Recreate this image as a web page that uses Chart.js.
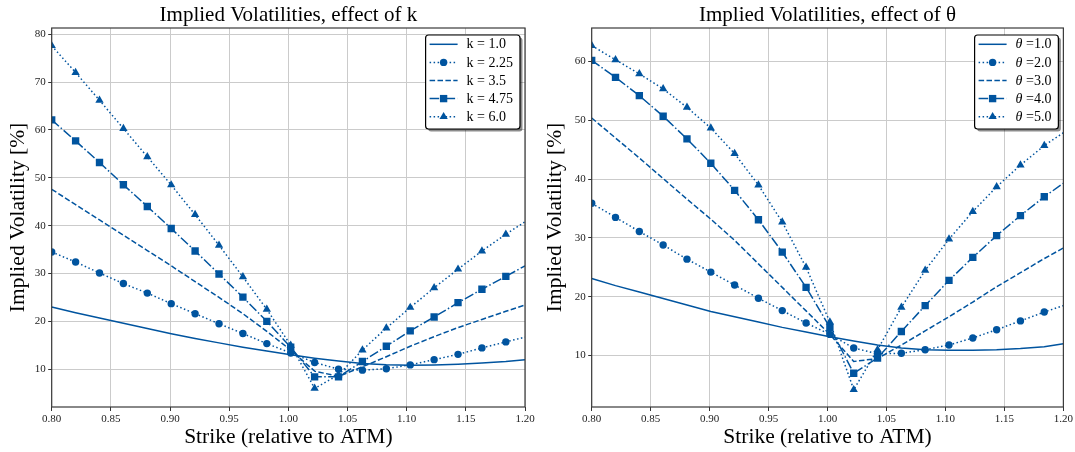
<!DOCTYPE html>
<html>
<head>
<meta charset="utf-8">
<script src="https://cdn.jsdelivr.net/npm/chart.js@4.4.1/dist/chart.umd.min.js"></script>
<style>
  html, body { margin: 0; padding: 0; background: #fff; }
  #wrap { position: relative; width: 1075px; height: 452px; }
  canvas { position: absolute; top: 0; }
  #left { left: 0; }
  #right { left: 537px; }
</style>
</head>
<body>
<div id="wrap">
  <canvas id="left" width="537" height="452"></canvas>
  <canvas id="right" width="538" height="452"></canvas>
</div>
<script>
// strikes where the smiles are sampled (markers on all but the last one)
const strikes = [0.8000, 0.8202, 0.8404, 0.8606, 0.8808, 0.9010, 0.9212, 0.9414, 0.9616, 0.9818,
                 1.0020, 1.0222, 1.0424, 1.0626, 1.0828, 1.1030, 1.1232, 1.1434, 1.1636, 1.1838, 1.2000];
const strikeTicks = [0.80, 0.85, 0.90, 0.95, 1.00, 1.05, 1.10, 1.15, 1.20];

// implied vols [%] for varying mean reversion k
const kLabels = ["k = 1.0", "k = 2.25", "k = 3.5", "k = 4.75", "k = 6.0"];
const volK1   = [23.0, 21.8, 20.7, 19.6, 18.5, 17.4, 16.4, 15.5, 14.6, 13.8, 13.0, 12.3, 11.7, 11.2, 10.95, 10.85, 10.9, 11.05, 11.3, 11.6, 12.0];
const volK225 = [34.5, 32.4, 30.1, 27.9, 25.9, 23.7, 21.6, 19.5, 17.45, 15.35, 13.4, 11.4, 10.0, 9.8, 10.1, 10.9, 12.0, 13.1, 14.45, 15.7, 16.7];
const volK35  = [47.6, 44.4, 41.2, 38.0, 34.8, 31.6, 28.3, 25.0, 21.6, 17.9, 14.0, 9.6, 8.5, 10.5, 12.6, 14.8, 16.8, 18.7, 20.4, 22.1, 23.4];
const volK475 = [62.1, 57.7, 53.2, 48.55, 44.0, 39.4, 34.7, 29.9, 25.05, 20.0, 14.6, 8.4, 8.4, 11.6, 14.8, 18.0, 20.9, 23.9, 26.7, 29.4, 31.6];
const volK6   = [77.6, 72.0, 66.2, 60.3, 54.4, 48.5, 42.3, 35.9, 29.3, 22.5, 15.0, 6.0, 8.8, 14.0, 18.6, 22.9, 27.0, 30.9, 34.7, 38.2, 40.8];
const kTicks = [10, 20, 30, 40, 50, 60, 70, 80];
const kRange = [2.1, 81.3];

// implied vols [%] for varying long-run variance theta
const thetaLabels = ["θ =1.0", "θ =2.0", "θ =3.0", "θ =4.0", "θ =5.0"];
const volT1 = [23.1, 21.9, 20.8, 19.7, 18.6, 17.5, 16.6, 15.7, 14.8, 14.0, 13.2, 12.5, 11.8, 11.3, 11.0, 10.9, 10.9, 11.0, 11.2, 11.5, 12.0];
const volT2 = [35.9, 33.5, 31.1, 28.8, 26.4, 24.2, 22.0, 19.75, 17.65, 15.55, 13.6, 11.3, 10.3, 10.4, 11.0, 11.8, 13.0, 14.4, 15.9, 17.4, 18.5];
const volT3 = [50.4, 47.0, 43.6, 40.1, 36.6, 33.2, 29.6, 25.6, 21.6, 17.6, 13.6, 9.0, 9.5, 11.8, 14.2, 16.6, 19.1, 21.7, 24.1, 26.5, 28.3];
const volT4 = [60.2, 57.3, 54.2, 50.7, 46.85, 42.7, 38.1, 33.1, 27.6, 21.6, 14.8, 7.0, 9.6, 14.1, 18.5, 22.8, 26.7, 30.4, 33.8, 37.0, 39.3];
const volT5 = [62.7, 60.3, 57.9, 55.35, 52.2, 48.7, 44.35, 39.0, 32.7, 25.0, 15.7, 4.2, 11.0, 18.2, 24.5, 29.8, 34.5, 38.7, 42.4, 45.7, 47.9];
const thetaTicks = [10, 20, 30, 40, 50, 60];
const thetaRange = [1.26, 65.7];

const BLUE = "#00549F";
const SERIF = '"Liberation Serif", "DejaVu Serif", serif';

// solid, dotted+o, dashed, dashdot+s, dotted+^
const lineStyles = [
  { dash: [], marker: null, r: 0 },
  { dash: [1.5, 2.5], marker: "circle", r: 3.7 },
  { dash: [5.5, 2.4], marker: null, r: 0 },
  { dash: [9.6, 2.4, 1.5, 2.4], marker: "rect", r: 5.2 },
  { dash: [1.5, 2.5], marker: "triangle", r: 4.8 },
];

function makeDatasets(labels, series) {
  return series.map((vals, i) => {
    const st = lineStyles[i];
    return {
      label: labels[i],
      data: vals.map((v, j) => ({ x: strikes[j], y: v })),
      borderColor: BLUE,
      backgroundColor: BLUE,
      borderWidth: 1.5,
      borderDash: st.dash,
      borderCapStyle: "butt",
      pointStyle: st.marker || "circle",
      pointRadius: vals.map((_, j) => (st.marker && j < vals.length - 1 ? st.r : 0)),
      pointBackgroundColor: BLUE,
      pointBorderWidth: 0,
      markerRadius: st.r,
      marker: st.marker,
      order: series.length - i,
    };
  });
}

function drawMarker(ctx, style, r, x, y) {
  ctx.beginPath();
  if (style === "circle") {
    ctx.arc(x, y, r, 0, Math.PI * 2);
  } else if (style === "rect") {
    const s = r * Math.SQRT1_2;
    ctx.rect(x - s, y - s, 2 * s, 2 * s);
  } else if (style === "triangle") {
    const w = r * Math.sin(Math.PI / 3);
    ctx.moveTo(x, y - r);
    ctx.lineTo(x + w, y + r / 2);
    ctx.lineTo(x - w, y + r / 2);
    ctx.closePath();
  }
  ctx.fill();
}

function roundRect(ctx, x, y, w, h, r) {
  ctx.beginPath();
  ctx.moveTo(x + r, y);
  ctx.arcTo(x + w, y, x + w, y + h, r);
  ctx.arcTo(x + w, y + h, x, y + h, r);
  ctx.arcTo(x, y + h, x, y, r);
  ctx.arcTo(x, y, x + w, y, r);
  ctx.closePath();
}

// closed box around the plotting area
const framePlugin = {
  id: "frame",
  afterDatasetsDraw(chart) {
    const { ctx, chartArea: a } = chart;
    ctx.save();
    ctx.strokeStyle = "#3a3a3a";
    ctx.lineWidth = 1.2;
    ctx.strokeRect(a.left, a.top, a.right - a.left, a.bottom - a.top);
    ctx.restore();
  },
};

// matplotlib-like legend box with shadow, upper right
const boxLegend = {
  id: "boxLegend",
  afterDraw(chart) {
    const { ctx, chartArea: a } = chart;
    const sets = chart.data.datasets;
    const font = "14px " + SERIF;
    const italic = "italic 14px " + SERIF;
    ctx.save();
    const parts = sets.map((d) => {
      if (d.label.startsWith("θ")) return [["θ", italic], [d.label.slice(1), font]];
      return [[d.label, font]];
    });
    const widths = parts.map((p) =>
      p.reduce((s, [t, f]) => { ctx.font = f; return s + ctx.measureText(t).width; }, 0)
    );
    const textW = Math.max(...widths);
    const rowH = 18.1;
    const w = 4 + 28 + 9 + textW + 7;
    const h = rowH * (sets.length - 1) + 21.6;
    const x = a.right - 5 - w;
    const y = a.top + 7;

    ctx.fillStyle = "rgba(0,0,0,0.45)";
    roundRect(ctx, x + 2.5, y + 2.5, w, h, 3);
    ctx.fill();
    ctx.fillStyle = "#fff";
    roundRect(ctx, x, y, w, h, 3);
    ctx.fill();
    ctx.strokeStyle = "#000";
    ctx.lineWidth = 1.2;
    ctx.stroke();

    sets.forEach((d, i) => {
      const cy = y + 9.3 + i * rowH;
      ctx.strokeStyle = d.borderColor;
      ctx.lineWidth = d.borderWidth;
      ctx.setLineDash(d.borderDash);
      ctx.beginPath();
      ctx.moveTo(x + 4, cy);
      ctx.lineTo(x + 32, cy);
      ctx.stroke();
      ctx.setLineDash([]);
      if (d.marker) {
        ctx.fillStyle = d.borderColor;
        drawMarker(ctx, d.marker, d.markerRadius, x + 18, cy);
      }
      let tx = x + 41;
      ctx.fillStyle = "#000";
      ctx.textBaseline = "middle";
      ctx.textAlign = "left";
      parts[i].forEach(([t, f]) => {
        ctx.font = f;
        ctx.fillText(t, tx, cy + 0.5);
        tx += ctx.measureText(t).width;
      });
    });
    ctx.restore();
  },
};

function makeChart(id, title, datasets, yTicks, yRange, yWidth, padRight) {
  return new Chart(document.getElementById(id), {
    type: "line",
    data: { datasets },
    plugins: [framePlugin, boxLegend],
    options: {
      responsive: false,
      animation: false,
      events: [],
      layout: { padding: { left: 0, right: padRight, top: 0, bottom: 0 } },
      plugins: {
        legend: { display: false },
        tooltip: { enabled: false },
        title: {
          display: true,
          text: title,
          fullSize: false,
          color: "#000",
          font: { family: SERIF, size: 21, weight: "normal", lineHeight: 1.15 },
          padding: { top: 3.2, bottom: 0.65 },
        },
      },
      scales: {
        x: {
          type: "linear",
          min: 0.8,
          max: 1.2,
          afterBuildTicks: (s) => { s.ticks = strikeTicks.map((v) => ({ value: v })); },
          afterFit: (s) => { s.height = 45; },
          grid: { color: "#cbcbcb", lineWidth: 1, tickColor: "#333", tickLength: 4 },
          border: { display: false },
          ticks: {
            color: "#222",
            padding: 2,
            maxRotation: 0,
            autoSkip: false,
            font: { family: SERIF, size: 11 },
            callback: (v) => Number(v).toFixed(2),
          },
          title: {
            display: true,
            text: "Strike (relative to ATM)",
            color: "#000",
            font: { family: SERIF, size: 21.5, weight: "normal", lineHeight: 1.2 },
            padding: { top: 0, bottom: 2 },
          },
        },
        y: {
          type: "linear",
          min: yRange[0],
          max: yRange[1],
          afterBuildTicks: (s) => { s.ticks = yTicks.map((v) => ({ value: v })); },
          afterFit: (s) => { s.width = yWidth; },
          grid: { color: "#cbcbcb", lineWidth: 1, tickColor: "#333", tickLength: 3.5 },
          border: { display: false },
          ticks: {
            color: "#222",
            padding: 2.5,
            autoSkip: false,
            font: { family: SERIF, size: 11 },
          },
          title: {
            display: true,
            text: "Implied Volatility [%]",
            color: "#000",
            font: { family: SERIF, size: 21.5, weight: "normal", lineHeight: 1.2 },
            padding: { top: 5, bottom: 0 },
          },
        },
      },
    },
  });
}

makeChart("left", "Implied Volatilities, effect of k",
  makeDatasets(kLabels, [volK1, volK225, volK35, volK475, volK6]),
  kTicks, kRange, 51.7, 12);

makeChart("right", "Implied Volatilities, effect of θ",
  makeDatasets(thetaLabels, [volT1, volT2, volT3, volT4, volT5]),
  thetaTicks, thetaRange, 54.7, 11);
</script>
</body>
</html>
